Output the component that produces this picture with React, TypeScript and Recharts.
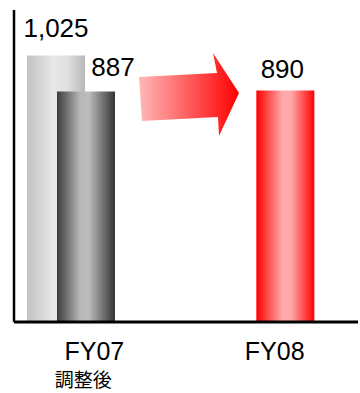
import { BarChart, Bar, XAxis, YAxis, Cell, LabelList, Customized } from "recharts";

const categories = ["FY07", "", "FY08"];
const subLabels = ["調整後", "", ""];
const mainValues = [1025, null, 890];
const adjustedValues = [887, null, null];

const data = categories.map((name, i) => ({
  name,
  main: mainValues[i],
  adjusted: adjustedValues[i],
}));

const FONT = '"Liberation Sans", Arial, sans-serif';
const mainFills = ["url(#gradLight)", "none", "url(#gradRed)"];

// label offsets per category (dx from bar centre, gap above bar top)
const mainLabelPos = [
  { dx: 0, gap: 19 },
  { dx: 0, gap: 0 },
  { dx: -3, gap: 13 },
];

function mainLabel(props: any) {
  const { x, y, width, value } = props;
  if (value == null) return null;
  const p = mainLabelPos[mainValues.indexOf(Number(value))] || mainLabelPos[0];
  return (
    <text x={x + width / 2 + p.dx} y={y - p.gap} textAnchor="middle" fontSize={26} fontFamily={FONT} fill="#000">
      {Number(value).toLocaleString("en-US")}
    </text>
  );
}

function adjustedLabel(props: any) {
  const { x, y, width, value } = props;
  if (value == null) return null;
  return (
    <text x={x + width / 2 + 27} y={y - 15} textAnchor="middle" fontSize={26} fontFamily={FONT} fill="#000">
      {Number(value).toLocaleString("en-US")}
    </text>
  );
}

function CategoryTick(props: any) {
  const { x, payload } = props;
  const label = payload.value;
  if (!label) return null;
  const sub = subLabels[categories.indexOf(label)];
  const shift = label === "FY07" ? 23 : -26;
  return (
    <g>
      <text x={x + shift} y={360} textAnchor="middle" fontSize={25} fontFamily={FONT} fill="#000">
        {label}
      </text>
      {sub && (
        <text x={x + 12} y={387} textAnchor="middle" fontSize={19} fontFamily='"Noto Sans CJK JP", sans-serif' fill="#000">
          {sub}
        </text>
      )}
    </g>
  );
}

function Arrow() {
  return <polygon points="139,77 217,73 213,53 239,93 219,136 218,117 142,121" fill="url(#gradArrow)" />;
}

export default function App() {
  return (
    <div style={{ position: "absolute", left: 0, top: 0, background: "#fff" }}>
      <BarChart
        width={360}
        height={393}
        data={data}
        margin={{ top: 10, right: 2, bottom: 0, left: 12 }}
        barSize={58}
        barGap={-28}
      >
        <defs>
          <linearGradient id="gradLight" x1="0" y1="0" x2="1" y2="0">
            <stop offset="0%" stopColor="#c2c2c2" />
            <stop offset="45%" stopColor="#e8e8e8" />
            <stop offset="70%" stopColor="#e0e0e0" />
            <stop offset="100%" stopColor="#b8b8b8" />
          </linearGradient>
          <linearGradient id="gradDark" x1="0" y1="0" x2="1" y2="0">
            <stop offset="0%" stopColor="#3c3c3c" />
            <stop offset="40%" stopColor="#b8b8b8" />
            <stop offset="55%" stopColor="#bcbcbc" />
            <stop offset="100%" stopColor="#333333" />
          </linearGradient>
          <linearGradient id="gradRed" x1="0" y1="0" x2="1" y2="0">
            <stop offset="0%" stopColor="#ff0000" />
            <stop offset="45%" stopColor="#ffaaaa" />
            <stop offset="60%" stopColor="#ffa8a8" />
            <stop offset="100%" stopColor="#ff0000" />
          </linearGradient>
          <linearGradient id="gradArrow" x1="0" y1="0" x2="1" y2="0">
            <stop offset="0%" stopColor="#ffb8b8" />
            <stop offset="100%" stopColor="#ff0000" />
          </linearGradient>
        </defs>
        <XAxis
          dataKey="name"
          height={71}
          tickLine={false}
          axisLine={{ stroke: "#000", strokeWidth: 3 }}
          tick={<CategoryTick />}
          interval={0}
        />
        <YAxis
          width={2}
          domain={[0, 1200]}
          tick={false}
          tickLine={false}
          axisLine={{ stroke: "#000", strokeWidth: 2.5 }}
        />
        <Bar dataKey="main" isAnimationActive={false}>
          {data.map((_, i) => (
            <Cell key={i} fill={mainFills[i]} />
          ))}
          <LabelList dataKey="main" content={mainLabel} />
        </Bar>
        <Bar dataKey="adjusted" fill="url(#gradDark)" isAnimationActive={false}>
          <LabelList dataKey="adjusted" content={adjustedLabel} />
        </Bar>
        <Customized component={Arrow} />
      </BarChart>
    </div>
  );
}
